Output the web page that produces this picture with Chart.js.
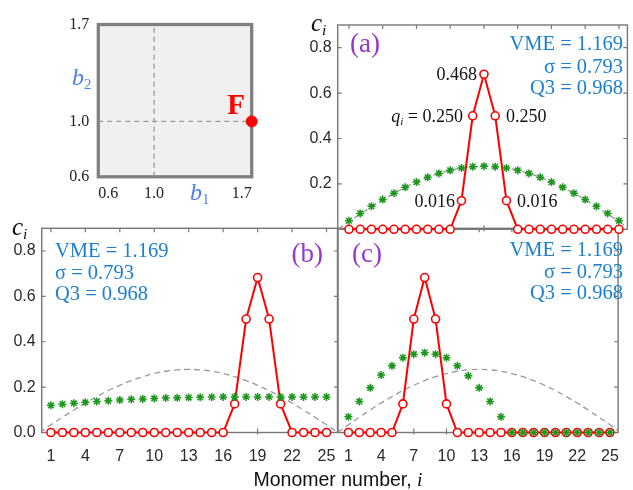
<!DOCTYPE html>
<html>
<head>
<meta charset="utf-8">
<script src="https://cdn.jsdelivr.net/npm/chart.js@4.4.0/dist/chart.umd.min.js"></script>
<style>
body { margin: 0; background: #fff; }
#fig { position: relative; width: 633px; height: 490px; overflow: hidden; }
#fig canvas { position: absolute; left: 0; top: 0; }
.t { position: absolute; white-space: nowrap; line-height: 1; z-index: 5; }
.serif { font-family: 'Liberation Serif', 'Times New Roman', serif; }
.sans { font-family: 'Liberation Sans', Arial, sans-serif; }
.sub { font-size: 0.62em; position: relative; top: 0.28em; font-style: italic; }
</style>
</head>
<body>
<div id="fig">
  <canvas id="cC" width="633" height="490"></canvas>
  <canvas id="cB" width="633" height="490"></canvas>
  <canvas id="cA" width="633" height="490"></canvas>
  <canvas id="cF" width="633" height="490"></canvas>
</div>
<script>
// monomer positions and tick values
const monomers = [1, 2, 3, 4, 5, 6, 7, 8, 9, 10, 11, 12, 13, 14, 15, 16, 17, 18, 19, 20, 21, 22, 23, 24, 25];
const xTicks = [1, 4, 7, 10, 13, 16, 19, 22, 25];
const yTicksA = [0.2, 0.4, 0.6, 0.8];
const yTicksB = [0.0, 0.2, 0.4, 0.6, 0.8];

// grey dashed reference curve (i = 0..26)
const envX = [0, 1, 2, 3, 4, 5, 6, 7, 8, 9, 10, 11, 12, 13, 14, 15, 16, 17, 18, 19, 20, 21, 22, 23, 24, 25, 26];
const envY = [0, 0.034, 0.067, 0.099, 0.130, 0.158, 0.185, 0.208, 0.229, 0.246, 0.260, 0.270, 0.276, 0.278,
              0.276, 0.270, 0.260, 0.246, 0.229, 0.208, 0.185, 0.158, 0.130, 0.099, 0.067, 0.034, 0];

// panel (a)
const redA = [0, 0, 0, 0, 0, 0, 0, 0, 0, 0, 0.126, 0.5, 0.683, 0.5, 0.126, 0, 0, 0, 0, 0, 0, 0, 0, 0, 0];
const greenA = [0.038, 0.070, 0.101, 0.131, 0.159, 0.185, 0.208, 0.229, 0.246, 0.260, 0.270, 0.276, 0.278,
                0.276, 0.270, 0.260, 0.246, 0.229, 0.208, 0.185, 0.159, 0.131, 0.101, 0.070, 0.038];
// panel (b)
const redB = [0, 0, 0, 0, 0, 0, 0, 0, 0, 0, 0, 0, 0, 0, 0, 0, 0.126, 0.5, 0.683, 0.5, 0.126, 0, 0, 0, 0];
const greenB = [0.120, 0.125, 0.129, 0.133, 0.137, 0.140, 0.143, 0.146, 0.148, 0.150, 0.152, 0.153, 0.154,
                0.155, 0.156, 0.157, 0.157, 0.157, 0.157, 0.157, 0.157, 0.157, 0.157, 0.157, 0.157];
// panel (c)
const redC = [0, 0, 0, 0, 0, 0.126, 0.5, 0.683, 0.5, 0.126, 0, 0, 0, 0, 0, 0, 0, 0, 0, 0, 0, 0, 0, 0, 0];
const greenC = [0.069, 0.137, 0.197, 0.253, 0.294, 0.330, 0.345, 0.352, 0.345, 0.330, 0.294, 0.250, 0.197,
                0.137, 0.069, 0, 0, 0, 0, 0, 0, 0, 0, 0, 0];

// inset (b1, b2) box
const insetTicks = [0.6, 1.0, 1.7];
const vLineX = [1.0, 1.0], vLineY = [0.6, 1.7];
const hLineX = [0.6, 1.7], hLineY = [1.0, 1.0];
const pointF = [{ x: 1.7, y: 1.0 }];

const xy = (xs, ys) => xs.map((v, k) => ({ x: v, y: ys[k] }));

Chart.defaults.font.family = "'Liberation Sans', Arial, sans-serif";

// box + inward ticks, drawn under the data
const frame = {
  id: 'frame',
  beforeDatasetsDraw(chart, args, o) {
    const { ctx, chartArea: a, scales: { x, y } } = chart;
    ctx.save();
    if (o.fill) {
      ctx.fillStyle = o.fill;
      ctx.fillRect(a.left, a.top, a.right - a.left, a.bottom - a.top);
    }
    ctx.strokeStyle = o.color;
    ctx.lineWidth = o.width;
    ctx.strokeRect(a.left, a.top, a.right - a.left, a.bottom - a.top);
    const L = o.tick || 0;
    if (L) {
      ctx.lineWidth = 1.2;
      ctx.beginPath();
      x.ticks.forEach(t => {
        const px = x.getPixelForValue(t.value);
        ctx.moveTo(px, a.top); ctx.lineTo(px, a.top + L);
        ctx.moveTo(px, a.bottom - L); ctx.lineTo(px, a.bottom + 2);
      });
      y.ticks.forEach(t => {
        const py = y.getPixelForValue(t.value);
        if (o.left) { ctx.moveTo(a.left, py); ctx.lineTo(a.left + L, py); }
        ctx.moveTo(a.right - L, py); ctx.lineTo(a.right, py);
      });
      ctx.stroke();
    }
    ctx.restore();
  }
};

function series(red, green) {
  return [
    { data: xy(monomers, green), showLine: false, pointStyle: 'star', pointRadius: 4, pointBorderWidth: 1.5,
      pointBorderColor: '#1c961c', pointBackgroundColor: '#1c961c', clip: false, order: 1 },
    { data: xy(monomers, red), borderColor: '#ff0000', borderWidth: 2, pointRadius: 4, pointBorderWidth: 1.6,
      pointBackgroundColor: '#ffffff', pointBorderColor: '#ff0000', clip: false, order: 2 },
    { data: xy(envX, envY), borderColor: '#9a9a9a', borderWidth: 1.3, borderDash: [6, 4], pointRadius: 0,
      tension: 0.4, order: 3 }
  ];
}

function panel(id, c) {
  return new Chart(document.getElementById(id), {
    type: 'line',
    data: { datasets: c.datasets },
    options: {
      responsive: false, animation: false, devicePixelRatio: 1,
      layout: { padding: c.pad },
      plugins: { legend: { display: false }, tooltip: { enabled: false }, frame: c.frame },
      scales: {
        x: {
          type: 'linear', min: c.xmin, max: c.xmax,
          grid: { display: false, drawTicks: false }, border: { display: false },
          ticks: { display: c.xLabels, padding: 14, color: '#2a2a2a', font: { size: 16 },
                   autoSkip: false, maxRotation: 0, callback: v => v },
          afterBuildTicks: s => { s.ticks = c.xt.map(v => ({ value: v })); },
          afterFit: s => { s.height = c.xh; }
        },
        y: {
          min: 0, max: 0.9,
          grid: { display: false, drawTicks: false }, border: { display: false },
          ticks: { display: c.yLabels, padding: 6, color: '#2a2a2a', font: { size: 16 },
                   autoSkip: false, callback: v => v.toFixed(1) },
          afterBuildTicks: s => { s.ticks = c.yt.map(v => ({ value: v })); },
          afterFit: s => { s.width = 40; }
        }
      }
    },
    plugins: [frame]
  });
}

// (c) bottom right
panel('cC', {
  datasets: series(redC, greenC), xmin: 0, xmax: 25.75, xt: xTicks, yt: yTicksB,
  xLabels: true, yLabels: false, xh: 30,
  pad: { left: 297.5, right: 1, top: 228.3, bottom: 27.5 },
  frame: { color: '#777', width: 1.4, tick: 4, left: false }
});
// (b) bottom left
panel('cB', {
  datasets: series(redB, greenB), xmin: 0.2, xmax: 26, xt: xTicks, yt: yTicksB,
  xLabels: true, yLabels: true, xh: 30,
  pad: { left: 1.7, right: 295, top: 228.3, bottom: 27.5 },
  frame: { color: '#777', width: 1.4, tick: 4, left: true }
});
// (a) top right
panel('cA', {
  datasets: series(redA, greenA), xmin: 0, xmax: 25.75, xt: xTicks, yt: yTicksA,
  xLabels: false, yLabels: true, xh: 0,
  pad: { left: 297.7, right: 1, top: 25, bottom: 260.7 },
  frame: { color: '#777', width: 1.4, tick: 4, left: true }
});

// inset square
new Chart(document.getElementById('cF'), {
  type: 'line',
  data: {
    datasets: [
      { data: pointF, pointRadius: 5.5, pointBackgroundColor: '#ff0000', pointBorderColor: '#ff0000',
        showLine: false, clip: false, order: 1 },
      { data: xy(vLineX, vLineY), borderColor: '#9a9a9a', borderWidth: 1.3, borderDash: [5, 4], pointRadius: 0, order: 2 },
      { data: xy(hLineX, hLineY), borderColor: '#9a9a9a', borderWidth: 1.3, borderDash: [5, 4], pointRadius: 0, order: 2 }
    ]
  },
  options: {
    responsive: false, animation: false, devicePixelRatio: 1,
    layout: { padding: { left: 58.3, right: 381.3, top: 24.5, bottom: 283.2 } },
    plugins: { legend: { display: false }, tooltip: { enabled: false },
               frame: { fill: '#f0f0f0', color: '#808080', width: 3.3, tick: 0 } },
    scales: {
      x: {
        type: 'linear', min: 0.6, max: 1.7,
        grid: { display: false, drawTicks: false }, border: { display: false },
        ticks: { padding: 7, align: 'inner', color: '#222', autoSkip: false, maxRotation: 0,
                 font: { family: "'Liberation Serif', serif", size: 16 }, callback: v => v.toFixed(1) },
        afterBuildTicks: s => { s.ticks = insetTicks.map(v => ({ value: v })); },
        afterFit: s => { s.height = 30; }
      },
      y: {
        min: 0.6, max: 1.7,
        grid: { display: false, drawTicks: false }, border: { display: false },
        ticks: { padding: 9, color: '#222', autoSkip: false,
                 font: { family: "'Liberation Serif', serif", size: 16 }, callback: v => v.toFixed(1) },
        afterBuildTicks: s => { s.ticks = insetTicks.map(v => ({ value: v })); },
        afterFit: s => { s.width = 40; }
      }
    }
  },
  plugins: [frame]
});

// text overlays
const fig = document.getElementById('fig');
function txt(html, x, y, cls, css, anchor) {
  const d = document.createElement('div');
  d.className = 't ' + cls;
  d.innerHTML = html;
  d.style.cssText = css;
  d.style.left = x + 'px';
  d.style.top = y + 'px';
  const tx = anchor === 'right' ? '-100%' : anchor === 'center' ? '-50%' : '0';
  d.style.transform = 'translate(' + tx + ',-50%)';
  fig.appendChild(d);
}
const BLUE = '#1b80d2', PURPLE = '#9b34cf', BBLUE = '#4d7ff0';
const stats = ['VME = 1.169', '\u03c3 = 0.793', 'Q3 = 0.968'];

// inset labels
txt('<i>b</i><span class="sub" style="font-style:normal">2</span>', 72, 77, 'serif', 'font-size:24px;color:' + BBLUE);
txt('<i>b</i><span class="sub" style="font-style:normal">1</span>', 190, 192, 'serif', 'font-size:24px;color:' + BBLUE);
txt('F', 236, 104, 'serif', 'font-size:29px;font-weight:bold;color:#ff0000', 'center');

// axis symbols
txt('<i>c</i><span class="sub">i</span>', 311, 21.5, 'serif', 'font-size:25px;color:#111');
txt('<i>c</i><span class="sub">i</span>', 12, 225.5, 'serif', 'font-size:25px;color:#111');

// (a)
txt('(a)', 350, 43, 'serif', 'font-size:27px;color:' + PURPLE);
[43.3, 65.7, 87.3].forEach((yy, k) => txt(stats[k], 623, yy, 'serif', 'font-size:20.5px;color:' + BLUE, 'right'));
txt('0.468', 477, 74, 'serif', 'font-size:18px;color:#111', 'right');
txt('<i>q</i><span class="sub">i</span> = 0.250', 463, 116, 'serif', 'font-size:18px;color:#111', 'right');
txt('0.250', 506, 116, 'serif', 'font-size:18px;color:#111');
txt('0.016', 455, 201, 'serif', 'font-size:18px;color:#111', 'right');
txt('0.016', 517, 201, 'serif', 'font-size:18px;color:#111');

// (b)
txt('(b)', 323, 253, 'serif', 'font-size:27px;color:' + PURPLE, 'right');
[250, 272, 293].forEach((yy, k) => txt(stats[k], 55, yy, 'serif', 'font-size:20.5px;color:' + BLUE));

// (c)
txt('(c)', 352, 253, 'serif', 'font-size:27px;color:' + PURPLE);
[249.3, 271.3, 292.3].forEach((yy, k) => txt(stats[k], 623, yy, 'serif', 'font-size:20.5px;color:' + BLUE, 'right'));

txt('Monomer number, <i class="serif">i</i>', 338, 480, 'sans', 'font-size:19.5px;color:#111', 'center');
</script>
</body>
</html>
